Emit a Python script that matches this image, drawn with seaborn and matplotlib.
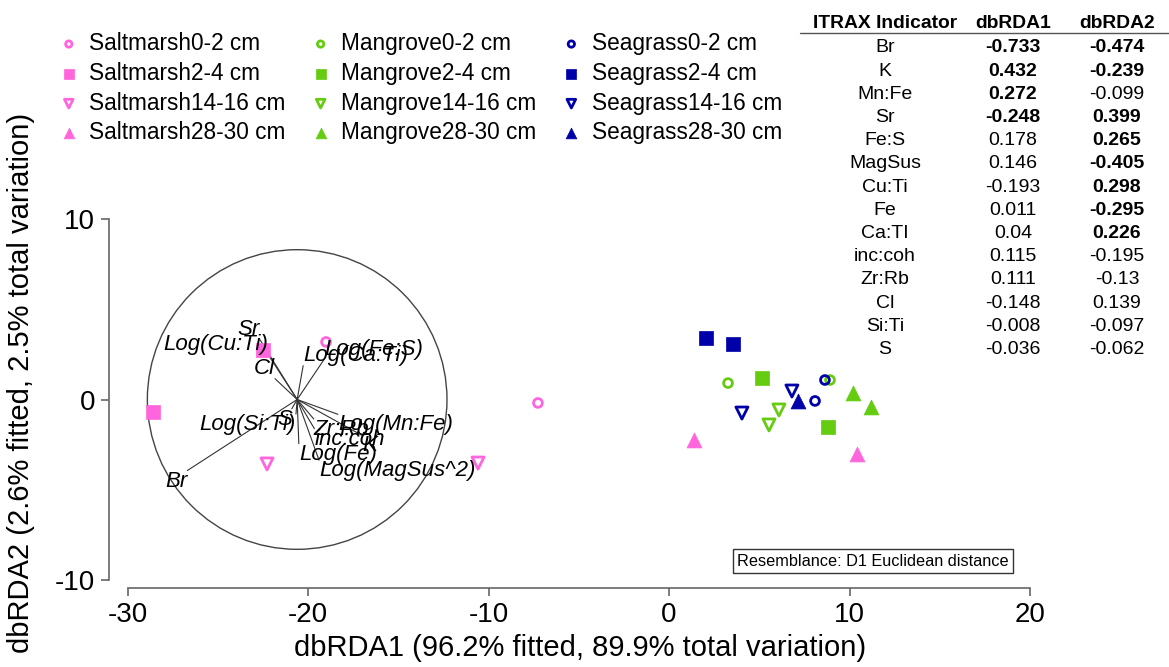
import numpy as np
import pandas as pd
import matplotlib
matplotlib.use("Agg")
import matplotlib.pyplot as plt
from matplotlib.patches import Circle
import seaborn as sns

# ---------------- data ----------------
habitats = ["Saltmarsh", "Mangrove", "Seagrass"]
depths = ["0-2 cm", "2-4 cm", "14-16 cm", "28-30 cm"]

sample_habitat = (["Saltmarsh"] * 8) + (["Mangrove"] * 8) + (["Seagrass"] * 7)
sample_depth = ["0-2 cm", "0-2 cm", "2-4 cm", "2-4 cm", "14-16 cm", "14-16 cm", "28-30 cm", "28-30 cm",
                "0-2 cm", "0-2 cm", "2-4 cm", "2-4 cm", "14-16 cm", "14-16 cm", "28-30 cm", "28-30 cm",
                "0-2 cm", "0-2 cm", "2-4 cm", "2-4 cm", "14-16 cm", "14-16 cm", "28-30 cm"]
sample_x = [-19.0, -7.26, -22.49, -28.6, -22.27, -10.58, 1.39, 10.42,
            3.27, 8.92, 5.15, 8.81, 6.09, 5.54, 10.19, 11.19,
            8.64, 8.09, 2.05, 3.55, 4.04, 6.81, 7.15]
sample_y = [3.19, -0.19, 2.74, -0.72, -3.57, -3.52, -2.24, -3.02,
            0.91, 1.08, 1.19, -1.52, -0.58, -1.41, 0.36, -0.42,
            1.08, -0.08, 3.41, 3.07, -0.75, 0.47, -0.08]

table_names = ["Br", "K", "Mn:Fe", "Sr", "Fe:S", "MagSus", "Cu:Ti", "Fe", "Ca:TI",
               "inc:coh", "Zr:Rb", "Cl", "Si:Ti", "S"]
vector_labels = ["Br", "K", "Log(Mn:Fe)", "Sr", "Log(Fe:S)", "Log(MagSus^2)", "Log(Cu:Ti)",
                 "Log(Fe)", "Log(Ca:Ti)", "inc:coh", "Zr:Rb", "Cl", "Log(Si:Ti)", "S"]
dbrda1 = [-0.733, 0.432, 0.272, -0.248, 0.178, 0.146, -0.193, 0.011, 0.04, 0.115, 0.111, -0.148, -0.008, -0.036]
dbrda2 = [-0.474, -0.239, -0.099, 0.399, 0.265, -0.405, 0.298, -0.295, 0.226, -0.195, -0.13, 0.139, -0.097, -0.062]

circle_center = (-20.6, 0.0)
circle_radius = 8.3

x_ticks = [-30, -20, -10, 0, 10, 20]
y_ticks = [-10, 0, 10]
x_label = "dbRDA1 (96.2% fitted, 89.9% total variation)"
y_label = "dbRDA2 (2.6% fitted, 2.5% total variation)"
resemblance_text = "Resemblance: D1 Euclidean distance"

# ---------------- style ----------------
colors = {"Saltmarsh": "#FF66DD", "Mangrove": "#66CC11", "Seagrass": "#0000AA"}
markers = {"0-2 cm": "o", "2-4 cm": "s", "14-16 cm": "v", "28-30 cm": "^"}
filled = {"0-2 cm": False, "2-4 cm": True, "14-16 cm": False, "28-30 cm": True}
sizes = {"0-2 cm": 40, "2-4 cm": 95, "14-16 cm": 75, "28-30 cm": 115}

sns.set_style("white")
plt.rcParams["font.family"] = ["Liberation Sans", "DejaVu Sans"]
plt.rcParams["axes.unicode_minus"] = False
plt.rcParams["text.color"] = "black"
plt.rcParams["xtick.color"] = "#666666"
plt.rcParams["ytick.color"] = "#666666"
plt.rcParams["xtick.labelcolor"] = "black"
plt.rcParams["ytick.labelcolor"] = "black"

W, H = 1169, 667
fig = plt.figure(figsize=(W / 100, H / 100), dpi=100)

def fx(px):
    return px / W

def fy(py):
    return 1 - py / H

ax_left, ax_bottom = 109, 588
ax = fig.add_axes([fx(ax_left), fy(ax_bottom), (W - ax_left) / W, ax_bottom / H])
ax.set_facecolor("none")

px_per_unit = 18.05
x0_px, y0_px = 669, 399.5
ax.set_xlim((ax_left - x0_px) / px_per_unit, (W - x0_px) / px_per_unit)
ax.set_ylim((y0_px - ax_bottom) / px_per_unit, y0_px / px_per_unit)

df = pd.DataFrame({"habitat": sample_habitat, "depth": sample_depth, "x": sample_x, "y": sample_y})

# circle and vectors
ax.add_patch(Circle(circle_center, circle_radius, fill=False, edgecolor="#444444", lw=1.0, zorder=1))
cx, cy = circle_center
for lab, a, b in zip(vector_labels, dbrda1, dbrda2):
    ex, ey = cx + circle_radius * a, cy + circle_radius * b
    ax.plot([cx, ex], [cy, ey], color="#333333", lw=0.8, zorder=2)
    ax.text(ex, ey, lab, ha="left" if a > 0 else "right", va="bottom" if b > 0 else "top",
            fontsize=16, style="italic", color="black", zorder=4)

# points
for hab in habitats:
    for dep in depths:
        sub = df[(df.habitat == hab) & (df.depth == dep)]
        col = colors[hab]
        if filled[dep]:
            sns.scatterplot(data=sub, x="x", y="y", ax=ax, marker=markers[dep], s=sizes[dep],
                            color=col, edgecolor=col, linewidth=0.5, label=f"{hab}{dep}", zorder=3)
        else:
            sns.scatterplot(data=sub, x="x", y="y", ax=ax, marker=markers[dep], s=sizes[dep],
                            facecolor="none", edgecolor=col, linewidth=2.0, label=f"{hab}{dep}", zorder=3)

ax.set_xlabel("")
ax.set_ylabel("")
ax.set_xticks(x_ticks)
ax.set_yticks(y_ticks)
ax.tick_params(axis="both", which="major", labelsize=20, length=6, width=1.2, color="#666666",
               labelcolor="black", direction="out", pad=4, left=True, bottom=True)
for side in ["top", "right"]:
    ax.spines[side].set_visible(False)
for side in ["left", "bottom"]:
    ax.spines[side].set_color("#666666")
    ax.spines[side].set_linewidth(1.2)
ax.spines["left"].set_bounds(y_ticks[0], y_ticks[-1])
ax.spines["bottom"].set_bounds(x_ticks[0], x_ticks[-1])

# legend
handles, labels = ax.get_legend_handles_labels()
leg = fig.legend(handles, labels, ncol=3, loc="upper left", bbox_to_anchor=(fx(62), fy(32)),
                 frameon=False, fontsize=16.3, markerscale=0.72, handlelength=0.6,
                 handletextpad=0.6, columnspacing=1.25, labelspacing=0.3, borderpad=0, borderaxespad=0)
for t in leg.get_texts():
    t.set_color("black")
if ax.get_legend() is not None:
    ax.get_legend().remove()

# axis labels
fig.text(fx(580), fy(648), x_label, ha="center", va="center", fontsize=21, color="black")
fig.text(fx(21), fy(383), y_label, ha="center", va="center", fontsize=21, rotation=90, color="black")

# table
col_x = [885, 1013, 1117]
fig.text(fx(col_x[0]), fy(23), "ITRAX Indicator", ha="center", va="center", fontsize=13.9, fontweight="bold")
fig.text(fx(col_x[1]), fy(23), "dbRDA1", ha="center", va="center", fontsize=13.9, fontweight="bold")
fig.text(fx(col_x[2]), fy(23), "dbRDA2", ha="center", va="center", fontsize=13.9, fontweight="bold")
fig.add_artist(plt.Line2D([fx(800), fx(1169)], [fy(33), fy(33)], color="#555555", lw=1.0))
row0, row_step = 48, 23.2
for i, (nm, a, b) in enumerate(zip(table_names, dbrda1, dbrda2)):
    yy = fy(row0 + i * row_step)
    fig.text(fx(col_x[0]), yy, nm, ha="center", va="center", fontsize=14)
    fig.text(fx(col_x[1]), yy, "%g" % a, ha="center", va="center", fontsize=14,
             fontweight="bold" if abs(a) > 0.2 else "normal")
    fig.text(fx(col_x[2]), yy, "%g" % b, ha="center", va="center", fontsize=14,
             fontweight="bold" if abs(b) > 0.2 else "normal")

# resemblance box
fig.text(fx(737), fy(561), resemblance_text, ha="left", va="center", fontsize=11.7,
         bbox=dict(boxstyle="square,pad=0.25", facecolor="white", edgecolor="#333333", lw=1.0))

fig.savefig("out.png", dpi=100)
